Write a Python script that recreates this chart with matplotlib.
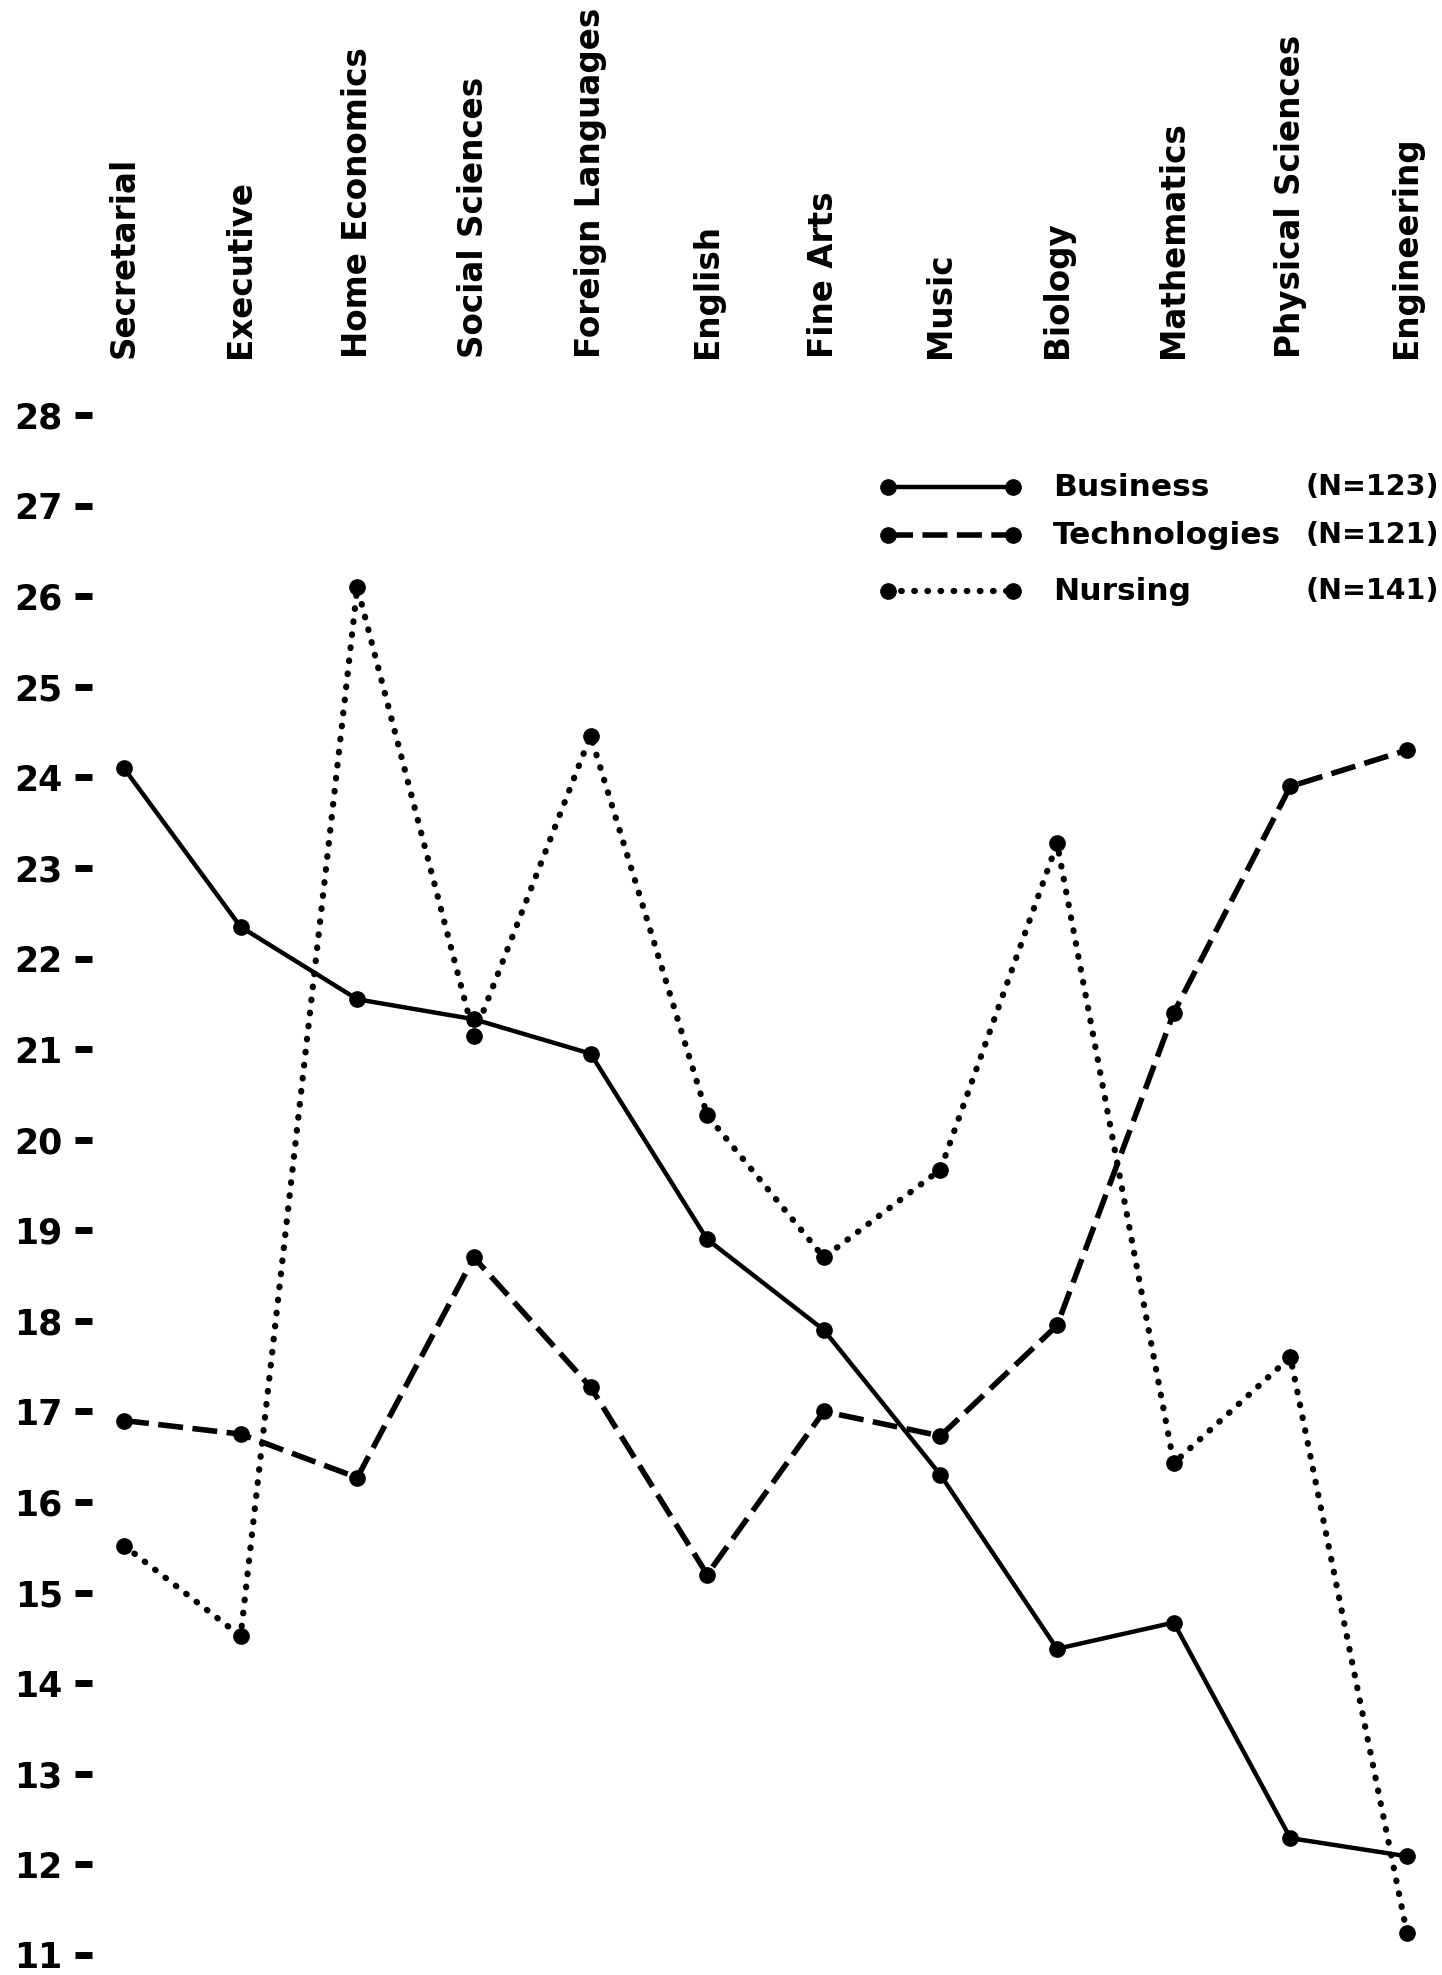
import matplotlib
matplotlib.use("Agg")
import matplotlib.pyplot as plt
from matplotlib.lines import Line2D

# ---------------- data ----------------
categories = ["Secretarial", "Executive", "Home Economics", "Social Sciences",
              "Foreign Languages", "English", "Fine Arts", "Music", "Biology",
              "Mathematics", "Physical Sciences", "Engineering"]
business = [24.1, 22.35, 21.55, 21.33, 20.95, 18.9, 17.9, 16.3, 14.38, 14.67, 12.29, 12.09]
technologies = [16.9, 16.75, 16.27, 18.7, 17.27, 15.2, 17.0, 16.73, 17.95, 21.4, 23.9, 24.3]
nursing = [15.52, 14.52, 26.1, 21.15, 24.46, 20.27, 18.7, 19.67, 23.27, 16.43, 17.6, 11.24]
series_names = ["Business", "Technologies", "Nursing"]
series_n = [123, 121, 141]
y_ticks = list(range(11, 29))

# ---------------- figure ----------------
W, H = 1442, 1975
DPI = 100
fig = plt.figure(figsize=(W / DPI, H / DPI), dpi=DPI, facecolor="white")

# axes placement in pixels
x0_px, x_first, x_last, x1_px = 92, 124, 1407, 1436
y28_px, y11_px = 415, 1955
step = (x_last - x_first) / (len(categories) - 1)
ax = fig.add_axes([x0_px / W, 1 - y11_px / H, (x1_px - x0_px) / W, (y11_px - y28_px) / H])
ax.set_xlim((x0_px - x_first) / step, (x1_px - x_first) / step)
ax.set_ylim(11, 28)
for s in ax.spines.values():
    s.set_visible(False)

font = "DejaVu Sans"
xs = list(range(len(categories)))

styles = [
    dict(linestyle="-", lw=3.2),
    dict(linestyle=(0, (4.5, 1.7)), lw=4.0),
    dict(linestyle=(0, (0.1, 2.0)), lw=4.5, dash_capstyle="round"),
]
MS = 11
all_series = [business, technologies, nursing]
for vals, st in zip(all_series, styles):
    ax.plot(xs, vals, color="black", marker="o", markersize=MS,
            markerfacecolor="black", markeredgecolor="black", clip_on=False, **st)

# x labels at top, rotated
ax.set_xticks(xs)
ax.set_xticklabels(categories, rotation=90, fontsize=23.5, fontweight="bold", family=font)
ax.tick_params(axis="x", top=True, labeltop=True, bottom=False, labelbottom=False,
               length=0, pad=41)

# y ticks
ax.set_yticks(y_ticks)
ax.set_yticklabels([str(v) for v in y_ticks], fontsize=25, fontweight="bold", family=font)
ax.tick_params(axis="y", direction="out", length=12.5, width=5, pad=8.5, color="black")

# ---------------- legend (manual) ----------------
leg_rows_px = [487, 535, 591]
lx0, lx1 = 888, 1013
name_x, n_x = 1053, 1306
for name, n, st, yp in zip(series_names, series_n, styles, leg_rows_px):
    yf = 1 - yp / H
    fig.add_artist(Line2D([lx0 / W, lx1 / W], [yf, yf], transform=fig.transFigure,
                          color="black", marker="o", markersize=MS, **st))
    fig.text(name_x / W, yf, name, fontsize=22.5, fontweight="bold", family=font,
             ha="left", va="center")
    fig.text(n_x / W, yf, f"(N={n})", fontsize=20.5, fontweight="bold", family=font,
             ha="left", va="center")

fig.savefig("out.png", dpi=DPI, facecolor="white")
